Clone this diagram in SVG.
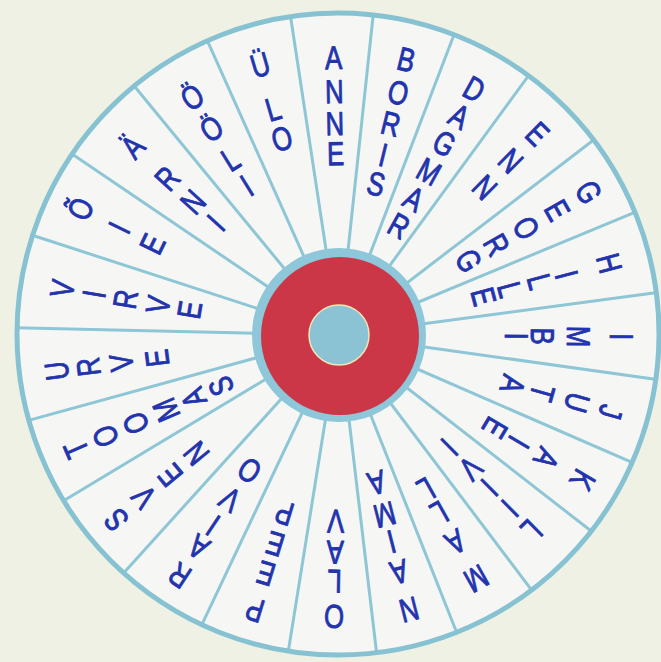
<svg xmlns="http://www.w3.org/2000/svg" width="661" height="662" viewBox="0 0 661 662">
<style>
.l{font-family:"Liberation Sans",Arial,sans-serif;font-size:33px;fill:#2233ad;stroke:#2233ad;stroke-width:0.9;stroke-linejoin:round;text-anchor:middle}
.sp{stroke:#8ec6d6;stroke-width:3;fill:none}
</style>
<rect width="661" height="662" fill="#eef1e4"/>
<circle id="wheel" cx="338" cy="334" r="321" fill="#f6f7f4"/>
<g id="spokes" class="sp">
<line x1="339" y1="335" x2="290.4" y2="15.5"/>
<line x1="339" y1="335" x2="373.3" y2="13.9"/>
<line x1="339" y1="335" x2="454.4" y2="33.8"/>
<line x1="339" y1="335" x2="529.1" y2="74.8"/>
<line x1="339" y1="335" x2="594.5" y2="139.3"/>
<line x1="339" y1="335" x2="635.9" y2="211.8"/>
<line x1="339" y1="335" x2="657.3" y2="292.5"/>
<line x1="339" y1="335" x2="656.8" y2="379.4"/>
<line x1="339" y1="335" x2="633.1" y2="462.9"/>
<line x1="339" y1="335" x2="592.1" y2="531.8"/>
<line x1="339" y1="335" x2="532.2" y2="590.8"/>
<line x1="339" y1="335" x2="457.0" y2="633.2"/>
<line x1="339" y1="335" x2="376.7" y2="653.7"/>
<line x1="339" y1="335" x2="288.2" y2="652.1"/>
<line x1="339" y1="335" x2="201.4" y2="625.6"/>
<line x1="339" y1="335" x2="123.0" y2="573.7"/>
<line x1="339" y1="335" x2="62.8" y2="501.3"/>
<line x1="339" y1="335" x2="27.8" y2="420.6"/>
<line x1="339" y1="335" x2="16.1" y2="327.8"/>
<line x1="339" y1="335" x2="31.6" y2="235.0"/>
<line x1="339" y1="335" x2="71.3" y2="153.5"/>
<line x1="339" y1="335" x2="133.6" y2="85.2"/>
<line x1="339" y1="335" x2="207.0" y2="39.8"/>
</g>
<circle cx="338" cy="334" r="321" fill="none" stroke="#86c2d2" stroke-width="5"/>
<g id="hub">
<circle cx="339" cy="335" r="87" fill="#8dc7d9"/>
<circle cx="340" cy="336" r="79" fill="#cc3747"/>
<circle cx="339" cy="335" r="30" fill="#8bc3d4" stroke="#efe6b8" stroke-width="1.5"/>
</g>
<g id="n-anne" class="l" transform="translate(339 335) rotate(-1.1) scale(0.78 1)"><text y="-266">A</text><text y="-232">N</text><text y="-200">N</text><text y="-170">E</text></g>
<g id="n-boris" class="l" transform="translate(339 335) rotate(13.75) scale(0.78 1)"><text y="-272">B</text><text y="-238">O</text><text y="-206">R</text><text y="-174">I</text><text y="-144">S</text></g>
<g id="n-dagmar" class="l" transform="translate(339 335) rotate(28.8) scale(0.78 1)"><text y="-269">D</text><text y="-238">A</text><text y="-207">G</text><text y="-175">M</text><text y="-144">A</text><text y="-113">R</text></g>
<g id="n-enn" class="l" transform="translate(339 335) rotate(44.6) scale(0.78 1)"><text y="-271">E</text><text y="-233">N</text><text y="-196">N</text></g>
<g id="n-georg" class="l" transform="translate(339 335) rotate(60.25) scale(0.78 1)"><text y="-276">G</text><text y="-240">E</text><text y="-204">O</text><text y="-170">R</text><text y="-138">G</text></g>
<g id="n-hille" class="l" transform="translate(339 335) rotate(75.15) scale(0.78 1)"><text y="-268">H</text><text y="-224">I</text><text y="-196">L</text><text y="-165">L</text><text y="-138">E</text></g>
<g id="n-imbi" class="l" transform="translate(339 335) rotate(90.35) scale(0.78 1)"><text y="-271">I</text><text y="-228">M</text><text y="-192">B</text><text y="-166">I</text></g>
<g id="n-juta" class="l" transform="translate(339 335) rotate(105.85) scale(0.78 1)"><text y="-271">J</text><text y="-236">U</text><text y="-200">T</text><text y="-169">A</text></g>
<g id="n-kaie" class="l" transform="translate(339 335) rotate(120.75) scale(0.78 1)"><text y="-272">K</text><text y="-230">A</text><text y="-198">I</text><text y="-170">E</text></g>
<g id="n-liivi" class="l" transform="translate(339 335) rotate(135.4) scale(0.78 1)"><text y="-263">L</text><text y="-232">I</text><text y="-203">I</text><text y="-176">V</text><text y="-146">I</text></g>
<g id="n-mall" class="l" transform="translate(339 335) rotate(150.6) scale(0.78 1)"><text y="-268">M</text><text y="-226">A</text><text y="-193">L</text><text y="-166">L</text></g>
<g id="n-naima" class="l" transform="translate(339 335) rotate(165.7) scale(0.78 1)"><text y="-272">N</text><text y="-233">A</text><text y="-202">I</text><text y="-174">M</text><text y="-141">A</text></g>
<g id="n-olav" class="l" transform="translate(339 335) rotate(181) scale(0.78 1)"><text y="-270">O</text><text y="-235">L</text><text y="-206">A</text><text y="-175">V</text></g>
<g id="n-peep" class="l" transform="translate(339 335) rotate(197) scale(0.78 1)"><text y="-276">P</text><text y="-238">E</text><text y="-207">E</text><text y="-175">P</text></g>
<g id="n-raivo" class="l" transform="translate(339 335) rotate(213.5) scale(0.78 1)"><text y="-277">R</text><text y="-243">A</text><text y="-217">I</text><text y="-186">V</text><text y="-151">O</text></g>
<g id="n-sven" class="l" transform="translate(339 335) rotate(230.3) scale(0.78 1)"><text y="-278">S</text><text y="-242">V</text><text y="-208">E</text><text y="-174">N</text></g>
<g id="n-toomas" class="l" transform="translate(339 335) rotate(246.55) scale(0.78 1)"><text y="-275">T</text><text y="-243">O</text><text y="-210">O</text><text y="-177">M</text><text y="-147">A</text><text y="-117">S</text></g>
<g id="n-urve" class="l" transform="translate(339 335) rotate(262.75) scale(0.78 1)"><text y="-273">U</text><text y="-241">R</text><text y="-208">V</text><text y="-172">E</text></g>
<g id="n-virve" class="l" transform="translate(339 335) rotate(279.5) scale(0.78 1)"><text y="-269">V</text><text y="-237">I</text><text y="-205">R</text><text y="-172">V</text><text y="-140">E</text></g>
<g id="n-oie" class="l" transform="translate(339 335) rotate(296) scale(0.78 1)"><text y="-276">Õ</text><text y="-233">I</text><text y="-196">E</text></g>
<g id="n-arni" class="l" transform="translate(339 335) rotate(312.35) scale(0.78 1)"><text y="-268">Ä</text><text y="-221">R</text><text y="-186">N</text><text y="-155">I</text></g>
<g id="n-ooli" class="l" transform="translate(339 335) rotate(328.3) scale(0.78 1)"><text y="-268">Ö</text><text y="-231">Ö</text><text y="-195">L</text><text y="-164">I</text></g>
<g id="n-ulo" class="l" transform="translate(339 335) rotate(343.75) scale(0.78 1)"><text y="-270">Ü</text><text y="-224">L</text><text y="-193">O</text></g>
</svg>
